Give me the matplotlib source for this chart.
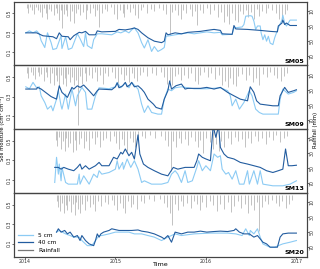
import numpy as np
import matplotlib
matplotlib.use('Agg')
import matplotlib.pyplot as plt
from matplotlib.lines import Line2D

# colours
c5 = '#8ccbf4'
c40 = '#225c9f'
crain = '#b8b8b8'

stations = ['SM05', 'SM09', 'SM13', 'SM20']

# ---- soil moisture, (decimal year, value) ----
sm05_5 = [(2014.01, .30), (2014.05, .32), (2014.09, .30), (2014.13, .32), (2014.16, .29), (2014.18, .22),
          (2014.22, .15), (2014.25, .30), (2014.29, .20), (2014.31, .13), (2014.35, .14), (2014.40, .27),
          (2014.41, .14), (2014.45, .26), (2014.48, .13), (2014.52, .145), (2014.58, .29), (2014.61, .24),
          (2014.65, .16), (2014.67, .30), (2014.69, .17), (2014.74, .14), (2014.76, .23), (2014.80, .29),
          (2014.85, .29), (2014.96, .28), (2015.02, .31), (2015.06, .30), (2015.11, .32), (2015.15, .30),
          (2015.18, .33), (2015.21, .35), (2015.25, .30), (2015.29, .20), (2015.32, .145), (2015.36, .23),
          (2015.40, .11), (2015.43, .16), (2015.47, .11), (2015.51, .13), (2015.54, .15), (2015.56, .265),
          (2015.60, .27), (2015.66, .28), (2015.73, .29), (2015.80, .30), (2015.87, .29), (2015.94, .30),
          (2016.01, .31), (2016.09, .30), (2016.16, .305), (2016.18, .28), (2016.29, .285), (2016.31, .35),
          (2016.40, .36), (2016.42, .385), (2016.44, .47), (2016.49, .475), (2016.51, .47), (2016.53, .42),
          (2016.55, .335), (2016.57, .37), (2016.60, .37), (2016.61, .30), (2016.63, .23), (2016.65, .28),
          (2016.67, .215), (2016.69, .265), (2016.71, .195), (2016.74, .18), (2016.76, .25), (2016.80, .35),
          (2016.84, .43), (2016.85, .48), (2016.87, .40), (2016.89, .37), (2016.93, .43), (2016.97, .43),
          (2017.00, .43)]
sm05_40 = [(2014.01, .30), (2014.13, .30), (2014.20, .27), (2014.31, .26), (2014.35, .24), (2014.38, .30),
           (2014.41, .265), (2014.48, .26), (2014.50, .23), (2014.54, .27), (2014.60, .305), (2014.63, .30),
           (2014.67, .315), (2014.71, .28), (2014.78, .28), (2014.80, .32), (2014.85, .31), (2015.00, .315),
           (2015.04, .335), (2015.11, .33), (2015.17, .34), (2015.21, .35), (2015.25, .335), (2015.29, .30),
           (2015.36, .25), (2015.43, .215), (2015.51, .20), (2015.54, .215), (2015.56, .30), (2015.58, .28),
           (2015.66, .30), (2015.73, .29), (2015.80, .305), (2015.87, .31), (2015.94, .315), (2016.01, .325),
           (2016.09, .335), (2016.16, .325), (2016.18, .29), (2016.29, .285), (2016.31, .375), (2016.33, .34),
           (2016.46, .335), (2016.60, .325), (2016.71, .315), (2016.79, .31), (2016.80, .37), (2016.84, .40),
           (2016.85, .43), (2016.87, .385), (2016.89, .40), (2016.93, .375), (2017.00, .375)]

sm09_5 = [(2014.01, .40), (2014.05, .38), (2014.09, .445), (2014.13, .39), (2014.16, .40), (2014.18, .308),
          (2014.22, .24), (2014.25, .172), (2014.29, .206), (2014.31, .155), (2014.35, .274), (2014.37, .36),
          (2014.40, .206), (2014.41, .172), (2014.45, .326), (2014.48, .172), (2014.52, .377), (2014.56, .206),
          (2014.58, .308), (2014.63, .394), (2014.67, .343), (2014.69, .172), (2014.74, .172), (2014.78, .308),
          (2014.82, .39), (2014.93, .38), (2015.00, .40), (2015.02, .445), (2015.06, .39), (2015.11, .44),
          (2015.15, .39), (2015.18, .445), (2015.25, .377), (2015.29, .223), (2015.32, .138), (2015.36, .206),
          (2015.40, .138), (2015.47, .121), (2015.51, .121), (2015.54, .274), (2015.58, .377), (2015.62, .36),
          (2015.66, .39), (2015.73, .40), (2015.87, .38), (2016.01, .38), (2016.16, .39), (2016.24, .36),
          (2016.27, .308), (2016.29, .206), (2016.33, .274), (2016.37, .172), (2016.42, .24), (2016.48, .36),
          (2016.51, .308), (2016.55, .172), (2016.59, .138), (2016.63, .121), (2016.76, .121), (2016.80, .121),
          (2016.82, .274), (2016.85, .377), (2016.91, .326), (2016.97, .343), (2017.00, .36)]
sm09_40 = [(2014.01, .377), (2014.13, .377), (2014.14, .394), (2014.18, .377), (2014.24, .335), (2014.29, .30),
           (2014.35, .274), (2014.38, .41), (2014.41, .343), (2014.47, .292), (2014.52, .394), (2014.54, .377),
           (2014.58, .41), (2014.61, .394), (2014.65, .418), (2014.71, .36), (2014.76, .308), (2014.80, .36),
           (2014.82, .377), (2014.96, .37), (2015.00, .40), (2015.02, .44), (2015.04, .39), (2015.08, .41),
           (2015.11, .445), (2015.13, .40), (2015.16, .42), (2015.18, .445), (2015.21, .40), (2015.25, .41),
           (2015.29, .377), (2015.32, .343), (2015.36, .274), (2015.42, .223), (2015.45, .189), (2015.51, .172),
           (2015.54, .274), (2015.58, .36), (2015.60, .46), (2015.62, .377), (2015.67, .411), (2015.73, .428),
           (2015.77, .377), (2015.80, .384), (2015.94, .384), (2016.01, .394), (2016.09, .377), (2016.16, .394),
           (2016.24, .343), (2016.31, .308), (2016.38, .274), (2016.46, .257), (2016.49, .40), (2016.53, .343),
           (2016.56, .257), (2016.60, .223), (2016.74, .206), (2016.80, .206), (2016.82, .308), (2016.87, .394),
           (2016.91, .343), (2016.97, .36), (2017.00, .37)]

sm13_5 = [(2014.33, .074), (2014.35, .331), (2014.37, .159), (2014.38, .262), (2014.40, .091), (2014.41, .228),
          (2014.45, .074), (2014.48, .057), (2014.58, .057), (2014.60, .159), (2014.61, .057), (2014.65, .142),
          (2014.71, .057), (2014.76, .159), (2014.80, .125), (2014.82, .194), (2014.85, .159), (2014.93, .176),
          (2015.00, .21), (2015.02, .296), (2015.04, .21), (2015.08, .279), (2015.09, .21), (2015.13, .314),
          (2015.17, .228), (2015.19, .262), (2015.21, .296), (2015.25, .21), (2015.29, .074), (2015.32, .091),
          (2015.40, .057), (2015.51, .057), (2015.58, .074), (2015.62, .159), (2015.66, .194), (2015.69, .159),
          (2015.73, .074), (2015.77, .194), (2015.80, .074), (2015.85, .091), (2015.90, .228), (2015.92, .296),
          (2015.96, .194), (2016.00, .245), (2016.05, .194), (2016.09, .365), (2016.13, .331), (2016.16, .347),
          (2016.18, .21), (2016.22, .159), (2016.25, .176), (2016.29, .108), (2016.33, .194), (2016.37, .057),
          (2016.42, .057), (2016.46, .194), (2016.48, .057), (2016.53, .194), (2016.57, .057), (2016.60, .194),
          (2016.63, .057), (2016.74, .040), (2016.85, .040), (2016.93, .057), (2017.00, .091)]
sm13_40 = [(2014.33, .228), (2014.37, .228), (2014.40, .21), (2014.43, .228), (2014.48, .21), (2014.54, .194),
           (2014.58, .228), (2014.61, .262), (2014.63, .21), (2014.67, .245), (2014.71, .21), (2014.78, .245),
           (2014.82, .279), (2014.85, .245), (2014.93, .245), (2014.98, .331), (2015.02, .314), (2015.06, .382),
           (2015.08, .365), (2015.11, .416), (2015.15, .347), (2015.18, .382), (2015.21, .314), (2015.25, .56),
           (2015.27, .365), (2015.31, .262), (2015.36, .228), (2015.43, .194), (2015.51, .159), (2015.58, .142),
           (2015.64, .228), (2015.69, .21), (2015.77, .228), (2015.87, .228), (2015.90, .296), (2015.92, .365),
           (2015.96, .331), (2016.00, .314), (2016.05, .296), (2016.08, .65), (2016.11, .535), (2016.14, .65),
           (2016.16, .432), (2016.20, .365), (2016.24, .331), (2016.31, .314), (2016.38, .279), (2016.46, .262),
           (2016.53, .245), (2016.60, .228), (2016.67, .194), (2016.74, .176), (2016.80, .194), (2016.85, .21),
           (2016.88, .416), (2016.91, .245), (2016.95, .245), (2017.00, .25)]

sm20_5 = [(2014.35, .218), (2014.38, .235), (2014.45, .20), (2014.50, .183), (2014.54, .167), (2014.60, .167),
          (2014.63, .132), (2014.69, .080), (2014.74, .080), (2014.78, .132), (2014.82, .183), (2014.85, .183),
          (2014.93, .20), (2015.00, .218), (2015.08, .218), (2015.15, .218), (2015.21, .20), (2015.29, .20),
          (2015.36, .183), (2015.43, .167), (2015.51, .132), (2015.58, .167), (2015.66, .20), (2015.73, .183),
          (2015.87, .20), (2016.05, .208), (2016.24, .208), (2016.33, .20), (2016.40, .183), (2016.44, .252),
          (2016.48, .183), (2016.49, .235), (2016.53, .20), (2016.57, .252), (2016.60, .167), (2016.63, .098),
          (2016.67, .080), (2016.71, .064), (2016.76, .064), (2016.80, .080), (2016.85, .098), (2016.93, .115),
          (2017.00, .132)]
sm20_40 = [(2014.35, .218), (2014.37, .252), (2014.40, .218), (2014.44, .235), (2014.47, .20), (2014.50, .218),
           (2014.54, .167), (2014.58, .183), (2014.61, .132), (2014.63, .183), (2014.67, .132), (2014.71, .098),
           (2014.76, .080), (2014.78, .132), (2014.80, .20), (2014.82, .167), (2014.84, .20), (2014.87, .218),
           (2014.93, .235), (2014.96, .252), (2015.04, .235), (2015.11, .235), (2015.18, .235), (2015.25, .24),
           (2015.29, .228), (2015.36, .218), (2015.43, .20), (2015.51, .167), (2015.54, .149), (2015.58, .183),
           (2015.62, .115), (2015.66, .218), (2015.73, .20), (2015.80, .218), (2015.87, .218), (2015.94, .228),
           (2016.01, .218), (2016.09, .224), (2016.16, .228), (2016.24, .224), (2016.31, .235), (2016.33, .252),
           (2016.37, .218), (2016.42, .20), (2016.48, .20), (2016.53, .167), (2016.57, .183), (2016.60, .149),
           (2016.63, .115), (2016.67, .098), (2016.71, .064), (2016.79, .064), (2016.82, .167), (2016.85, .20),
           (2016.91, .208), (2017.00, .208)]

# ---- rainfall, (decimal year, mm) ----
rain_sm05 = [(2014.02, 6), (2014.04, 12), (2014.06, 4), (2014.08, 9), (2014.10, 14), (2014.12, 5), (2014.15, 8),
             (2014.17, 11), (2014.19, 18), (2014.21, 6), (2014.23, 13), (2014.25, 20), (2014.27, 7), (2014.29, 10),
             (2014.32, 15), (2014.34, 6), (2014.36, 12), (2014.38, 22), (2014.40, 9), (2014.41, 33), (2014.43, 14),
             (2014.45, 8), (2014.47, 17), (2014.50, 23), (2014.52, 10), (2014.54, 26), (2014.56, 12), (2014.59, 7),
             (2014.61, 15), (2014.64, 11), (2014.67, 20), (2014.69, 8), (2014.72, 13), (2014.75, 6), (2014.78, 16),
             (2014.80, 9), (2014.82, 31), (2014.85, 12), (2014.88, 7), (2014.91, 10), (2014.95, 5), (2014.99, 14),
             (2015.02, 20), (2015.05, 9), (2015.08, 12), (2015.10, 18), (2015.13, 7), (2015.16, 11), (2015.19, 6),
             (2015.22, 15), (2015.25, 19), (2015.28, 9), (2015.31, 5), (2015.35, 12), (2015.39, 7), (2015.43, 10),
             (2015.48, 6), (2015.53, 9), (2015.56, 14), (2015.60, 42), (2015.63, 11), (2015.66, 8), (2015.69, 15),
             (2015.72, 21), (2015.75, 9), (2015.78, 12), (2015.82, 7), (2015.85, 16), (2015.88, 10), (2015.90, 28),
             (2015.93, 8), (2015.97, 12), (2016.01, 6), (2016.05, 14), (2016.09, 9), (2016.13, 18), (2016.17, 11),
             (2016.20, 24), (2016.23, 16), (2016.26, 27), (2016.29, 13), (2016.32, 22), (2016.35, 25), (2016.38, 10),
             (2016.41, 14), (2016.44, 8), (2016.47, 18), (2016.50, 11), (2016.53, 20), (2016.56, 7), (2016.59, 16),
             (2016.62, 10), (2016.66, 13), (2016.69, 6), (2016.73, 9), (2016.77, 12), (2016.81, 20), (2016.84, 22),
             (2016.87, 14), (2016.90, 8)]
rain_sm09 = [(2014.02, 8), (2014.04, 14), (2014.07, 6), (2014.09, 11), (2014.11, 16), (2014.14, 7), (2014.16, 12),
             (2014.18, 9), (2014.21, 18), (2014.23, 6), (2014.25, 13), (2014.28, 21), (2014.30, 8), (2014.32, 24),
             (2014.34, 11), (2014.36, 19), (2014.38, 26), (2014.40, 10), (2014.42, 22), (2014.44, 15), (2014.46, 25),
             (2014.48, 9), (2014.50, 20), (2014.52, 13), (2014.54, 24), (2014.56, 17), (2014.59, 77), (2014.61, 12),
             (2014.63, 22), (2014.66, 8), (2014.68, 18), (2014.71, 11), (2014.74, 14), (2014.77, 7), (2014.80, 19),
             (2014.83, 10), (2014.86, 22), (2014.89, 8), (2014.92, 12), (2014.96, 6), (2015.00, 15), (2015.03, 21),
             (2015.06, 9), (2015.09, 17), (2015.12, 11), (2015.15, 20), (2015.18, 8), (2015.21, 14), (2015.24, 18),
             (2015.27, 10), (2015.31, 6), (2015.35, 12), (2015.40, 8), (2015.45, 11), (2015.50, 6), (2015.54, 13),
             (2015.57, 22), (2015.60, 18), (2015.63, 24), (2015.66, 12), (2015.69, 9), (2015.72, 17), (2015.76, 11),
             (2015.80, 14), (2015.84, 8), (2015.88, 19), (2015.91, 23), (2015.94, 10), (2015.98, 7), (2016.02, 13),
             (2016.06, 8), (2016.10, 16), (2016.14, 11), (2016.18, 24), (2016.21, 19), (2016.24, 26), (2016.27, 14),
             (2016.30, 22), (2016.33, 25), (2016.36, 12), (2016.40, 9), (2016.44, 17), (2016.48, 11), (2016.52, 20),
             (2016.55, 14), (2016.59, 24), (2016.63, 9), (2016.67, 13), (2016.71, 7), (2016.75, 11), (2016.79, 15),
             (2016.83, 19), (2016.86, 12), (2016.90, 8)]
rain_sm13 = [(2014.34, 12), (2014.36, 20), (2014.38, 8), (2014.40, 24), (2014.42, 14), (2014.44, 27), (2014.46, 10),
             (2014.48, 22), (2014.50, 16), (2014.53, 28), (2014.55, 12), (2014.57, 25), (2014.60, 18), (2014.62, 9),
             (2014.65, 23), (2014.68, 13), (2014.71, 26), (2014.74, 10), (2014.77, 18), (2014.80, 8), (2014.83, 21),
             (2014.86, 12), (2014.90, 9), (2014.94, 14), (2014.98, 7), (2015.01, 16), (2015.04, 24), (2015.07, 11),
             (2015.10, 19), (2015.13, 27), (2015.16, 9), (2015.19, 15), (2015.22, 22), (2015.25, 12), (2015.29, 7),
             (2015.33, 10), (2015.38, 6), (2015.44, 9), (2015.50, 7), (2015.55, 12), (2015.58, 20), (2015.61, 53),
             (2015.64, 14), (2015.67, 22), (2015.70, 9), (2015.73, 16), (2015.77, 11), (2015.80, 19), (2015.84, 8),
             (2015.88, 14), (2015.91, 22), (2015.94, 12), (2015.97, 30), (2016.00, 9), (2016.04, 15), (2016.08, 24),
             (2016.11, 18), (2016.14, 27), (2016.17, 13), (2016.20, 21), (2016.24, 10), (2016.28, 17), (2016.32, 8),
             (2016.36, 14), (2016.40, 11), (2016.43, 22), (2016.46, 9), (2016.50, 16), (2016.54, 7), (2016.58, 13),
             (2016.62, 10), (2016.66, 18), (2016.70, 8), (2016.74, 12), (2016.78, 6), (2016.82, 15), (2016.86, 10),
             (2016.90, 7)]
rain_sm20 = [(2014.35, 9), (2014.37, 16), (2014.39, 22), (2014.41, 11), (2014.43, 25), (2014.45, 14), (2014.47, 20),
             (2014.49, 8), (2014.51, 23), (2014.53, 13), (2014.55, 27), (2014.57, 10), (2014.59, 19), (2014.61, 25),
             (2014.63, 12), (2014.66, 21), (2014.69, 9), (2014.72, 17), (2014.75, 12), (2014.78, 22), (2014.81, 8),
             (2014.84, 15), (2014.88, 10), (2014.92, 13), (2014.96, 7), (2014.99, 14), (2015.02, 21), (2015.05, 11),
             (2015.08, 18), (2015.11, 24), (2015.14, 9), (2015.17, 16), (2015.20, 12), (2015.24, 19), (2015.28, 8),
             (2015.32, 11), (2015.37, 6), (2015.43, 9), (2015.49, 6), (2015.54, 11), (2015.57, 17), (2015.60, 24),
             (2015.63, 41), (2015.66, 13), (2015.69, 20), (2015.72, 9), (2015.75, 15), (2015.79, 11), (2015.83, 18),
             (2015.87, 8), (2015.90, 13), (2015.93, 21), (2015.96, 10), (2016.00, 16), (2016.04, 8), (2016.08, 14),
             (2016.12, 22), (2016.16, 12), (2016.20, 19), (2016.24, 10), (2016.28, 23), (2016.31, 15), (2016.35, 9),
             (2016.39, 18), (2016.43, 12), (2016.47, 25), (2016.50, 14), (2016.53, 20), (2016.56, 10), (2016.59, 49),
             (2016.62, 16), (2016.65, 9), (2016.69, 13), (2016.73, 7), (2016.77, 11), (2016.81, 15), (2016.84, 9),
             (2016.88, 18), (2016.92, 12), (2016.95, 7)]

shallow = [sm05_5, sm09_5, sm13_5, sm20_5]
deep = [sm05_40, sm09_40, sm13_40, sm20_40]
rain = [rain_sm05, rain_sm09, rain_sm13, rain_sm20]
years = [2014, 2015, 2016, 2017]

W, H = 320, 269
fig = plt.figure(figsize=(W / 100, H / 100), dpi=100)
left, right = 14.0 / W, 307.0 / W
top_px, bot_px = 1.7, 256.7
ph = (bot_px - top_px) / 4

frame_col = '#444444'
tick_kw = dict(labelsize=3.4, length=1.3, width=0.5, pad=0.5, colors='#333333')
for i in range(4):
    y0 = 1 - (top_px + (i + 1) * ph) / H
    ax = fig.add_axes([left, y0, right - left, ph / H])
    ax2 = ax.twinx()

    # rainfall hanging from the top, on the right axis
    r = np.array(rain[i], dtype=float)
    ax2.vlines(r[:, 0], 0, r[:, 1], color=crain, lw=0.6)
    ax2.set_ylim(82.6, -2.4)
    ax2.set_yticks([10, 30, 50, 70])
    ax2.tick_params(axis='y', **tick_kw)
    for lab in ax2.get_yticklabels():
        lab.set_rotation(90)
        lab.set_va('center')

    ax.set_zorder(ax2.get_zorder() + 1)
    ax.patch.set_visible(False)
    s = np.array(shallow[i])
    d = np.array(deep[i])
    ax.plot(s[:, 0], s[:, 1], color=c5, lw=0.8)
    ax.plot(d[:, 0], d[:, 1], color=c40, lw=0.8)
    ax.set_ylim(-0.033, 0.618)
    ax.set_xlim(2013.88, 2017.117)
    ax.set_yticks([0.1, 0.3, 0.5])
    ax.set_yticklabels(['0.1', '0.3', '0.5'], rotation=90, va='center')
    ax.tick_params(axis='y', **tick_kw)
    ax.set_xticks(years)
    if i == 3:
        ax.tick_params(axis='x', **tick_kw)
    else:
        ax.tick_params(axis='x', length=0, labelbottom=False)
    for a in (ax, ax2):
        for sp in a.spines.values():
            sp.set_color(frame_col)
            sp.set_linewidth(0.8)
    ax.text(0.99, 0.03, stations[i], transform=ax.transAxes, ha='right', va='bottom',
            fontsize=4.6, fontweight='bold')

    if i == 3:
        handles = [Line2D([], [], color=c5, lw=0.9), Line2D([], [], color=c40, lw=0.9),
                   Line2D([], [], color='#777777', lw=0.9)]
        ax.legend(handles, ['5 cm', '40 cm', 'Rainfall'], loc='lower left', frameon=False,
                  fontsize=4.2, handlelength=2.6, handletextpad=0.8, labelspacing=0.35,
                  borderaxespad=0.3, bbox_to_anchor=(0.0, 0.0))

fig.text(160 / W, 1 - 264 / H, 'Time', ha='center', va='center', fontsize=4.6)
fig.text(3.0 / W, 1 - 128 / H, 'Soil moisture (cm³ cm⁻³)', rotation=90,
         ha='center', va='center', fontsize=3.8)
fig.text(315.5 / W, 1 - 130 / H, 'Rainfall (mm)', rotation=90, ha='center', va='center', fontsize=3.8)

plt.savefig('out.png', dpi=100)
